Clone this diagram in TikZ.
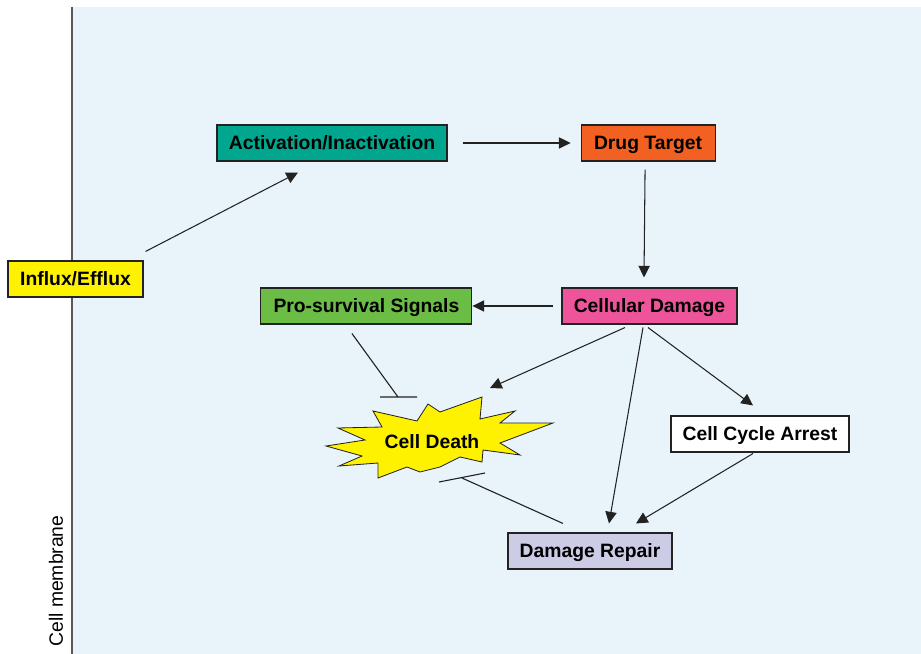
\documentclass[tikz,border=0pt]{standalone}
\usepackage{fontspec}
\setmainfont{Liberation Sans}
\usetikzlibrary{arrows.meta, positioning, backgrounds}
\definecolor{panelBlue}{RGB}{232,244,250}
\definecolor{lineGray}{RGB}{34,34,34}
\definecolor{fluxYellow}{RGB}{255,242,0}
\definecolor{actTeal}{RGB}{0,166,142}
\definecolor{drugOrange}{RGB}{242,97,34}
\definecolor{damPink}{RGB}{238,84,154}
\definecolor{survGreen}{RGB}{108,189,69}
\definecolor{repLilac}{RGB}{205,204,230}

\begin{document}
\begin{tikzpicture}[
  x=0.03cm, y=-0.03cm,
  box/.style={rectangle, draw=lineGray, line width=0.9pt, inner sep=0pt,
              minimum height=1.08cm, text height=11.8pt, text depth=0pt,
              font=\fontsize{16.5}{19}\selectfont\bfseries},
  arr/.style={-{Triangle[length=3.5mm,width=3.4mm]}, line width=0.9pt, color=lineGray},
  inh/.style={line width=0.95pt, color=lineGray},
  burst/.style={draw=lineGray, line width=0.7pt, fill=fluxYellow, line join=miter},
]
\useasboundingbox (0,0) rectangle (921,654);

%% Nodes
\node[box, fill=fluxYellow, minimum width=4.05cm] (influx) at (75.5,279) {Influx/Efflux};
\node[box, fill=actTeal, minimum width=6.9cm]     (act)    at (332,143)  {Activation/Inactivation};
\node[box, fill=drugOrange, minimum width=4.02cm, right=3.99cm of act] (drug) {Drug Target};
\node[box, fill=damPink, minimum width=5.25cm]    (dmg)    at (649.5,306) {Cellular Damage};
\node[box, fill=survGreen, minimum width=6.33cm, left=2.67cm of dmg] (surv) {Pro-survival Signals};
\node[box, fill=white, minimum width=5.34cm]      (arrest) at (760,434)  {Cell Cycle Arrest};
\node[box, fill=repLilac, minimum width=4.92cm]   (repair) at (590,551)  {Damage Repair};

%% Cell death burst
\draw[burst, shift={(440,440)}] (-114,6) -- (-75,0) -- (-102,-12) -- (-58,-13)
  -- (-67,-29) -- (-23,-19) -- (-12,-36) -- (0,-28) -- (42,-43) -- (40,-21)
  -- (75,-29) -- (60,-17) -- (113,-17) -- (60,3) -- (80,15) -- (43,10)
  -- (42,22) -- (20,17) -- (0,27) -- (-20,32) -- (-33,27) -- (-62,38)
  -- (-62,23) -- (-101,26) -- (-78,16) -- cycle;
\node[font=\fontsize{16.5}{19}\selectfont\bfseries, inner sep=0pt,
      text height=11.8pt, text depth=0pt] (death) at (432,442) {Cell Death};

\node[rotate=90, font=\fontsize{16.5}{19}\selectfont, inner sep=0pt] (membrane) at (56,581) {Cell membrane};

%% Edges
\draw[arr] ([shift={(2,-9)}]influx.north east) -- ([shift={(-34,11)}]act.south);
\draw[arr] ([shift={(15,0)}]act.east)      -- ([shift={(-10,0)}]drug.west);
\draw[arr] ([shift={(-3,8)}]drug.south)    -- ([shift={(-5.5,-10)}]dmg.north);
\draw[arr] ([shift={(-8,0)}]dmg.west)      -- (surv.east);
\draw[arr] ([shift={(-24.5,3)}]dmg.south)  -- ([shift={(58,-54)}]death.center);
\draw[arr] ([shift={(-6.5,3)}]dmg.south)   -- ([shift={(19,-9)}]repair.north);
\draw[arr] ([shift={(-1.5,3)}]dmg.south)   -- ([shift={(-7,-10)}]arrest.north);
\draw[arr] ([shift={(-7,1)}]arrest.south)  -- ([shift={(46,-9)}]repair.north);
\draw[inh] ([shift={(-14.5,9)}]surv.south) -- ([shift={(-34,-45)}]death.center) ++(-18,0) -- ++(37,0);
\draw[inh] ([shift={(-27,-9)}]repair.north) -- ([shift={(30,36)}]death.center) ++(-23,4) -- ++(46,-9);

%% Cell panel
\begin{scope}[on background layer]
  \fill[panelBlue] (72,7) rectangle (921,654);
  \draw[lineGray!75, line width=0.9pt] (72,7) -- (72,654);
\end{scope}
\end{tikzpicture}
\end{document}
